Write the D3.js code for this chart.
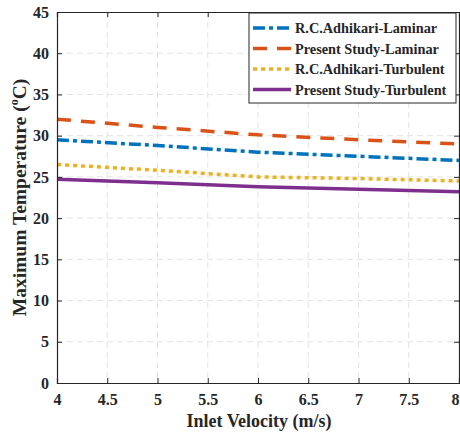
<!DOCTYPE html>
<html lang="en">
<head>
<meta charset="UTF-8">
<script src="https://cdn.jsdelivr.net/npm/d3@7"></script>
<style>
  body { margin: 0; background: #fff; }
  text { font-family: "Liberation Serif", "Times New Roman", serif; font-weight: bold; fill: #262626; }
</style>
</head>
<body>
<script>
// data
var velocity = [4, 5, 6, 7, 8];
var adhikariLaminar = [29.5, 28.8, 28.0, 27.5, 27.0];
var presentLaminar = [32.0, 31.0, 30.1, 29.5, 29.0];
var adhikariTurbulent = [26.5, 25.8, 25.0, 24.8, 24.5];
var presentTurbulent = [24.7, 24.3, 23.8, 23.5, 23.2];
var xTicks = [4, 4.5, 5, 5.5, 6, 6.5, 7, 7.5, 8];
var yTicks = [0, 5, 10, 15, 20, 25, 30, 35, 40, 45];

var series = [
  { name: "R.C.Adhikari-Laminar", values: adhikariLaminar, color: "#0072BD", dash: "12,4,4,4" },
  { name: "Present Study-Laminar", values: presentLaminar, color: "#D95319", dash: "14,10" },
  { name: "R.C.Adhikari-Turbulent", values: adhikariTurbulent, color: "#EDB120", dash: "4,4" },
  { name: "Present Study-Turbulent", values: presentTurbulent, color: "#7E2F8E", dash: null }
];

var width = 460, height = 432;
var m = { left: 57, right: 1, top: 12, bottom: 49 };
var pw = width - m.left - m.right, ph = height - m.top - m.bottom;

var svg = d3.select("body").append("svg")
  .attr("width", width).attr("height", height);
var g = svg.append("g").attr("transform", "translate(" + m.left + "," + m.top + ")");

var x = d3.scaleLinear().domain([4, 8]).range([0, pw]);
var y = d3.scaleLinear().domain([0, 45]).range([ph, 0]);

// grid
g.append("g").selectAll("line").data(xTicks.slice(1, -1)).enter().append("line")
  .attr("x1", function (d) { return x(d); }).attr("x2", function (d) { return x(d); })
  .attr("y1", 0).attr("y2", ph)
  .attr("stroke", "#e3e3e3").attr("stroke-dasharray", "6,4");
g.append("g").selectAll("line").data(yTicks.slice(1, -1)).enter().append("line")
  .attr("y1", function (d) { return y(d); }).attr("y2", function (d) { return y(d); })
  .attr("x1", 0).attr("x2", pw)
  .attr("stroke", "#e3e3e3").attr("stroke-dasharray", "6,4");

// lines
var line = d3.line()
  .x(function (d, i) { return x(velocity[i]); })
  .y(function (d) { return y(d); });
series.forEach(function (s) {
  g.append("path").datum(s.values)
    .attr("d", line)
    .attr("fill", "none")
    .attr("stroke", s.color)
    .attr("stroke-width", 3.5)
    .attr("stroke-dasharray", s.dash);
});

// axes
var xAxis = g.append("g").attr("transform", "translate(0," + ph + ")")
  .call(d3.axisBottom(x).tickValues(xTicks).tickSize(-5).tickPadding(11).tickFormat(d3.format("")));
var yAxis = g.append("g")
  .call(d3.axisLeft(y).tickValues(yTicks).tickSize(-5).tickPadding(8));
var xTop = g.append("g")
  .call(d3.axisTop(x).tickValues(xTicks).tickSize(-5).tickFormat(""));
var yRight = g.append("g").attr("transform", "translate(" + pw + ",0)")
  .call(d3.axisRight(y).tickValues(yTicks).tickSize(-5).tickFormat(""));
[xAxis, yAxis, xTop, yRight].forEach(function (a) {
  a.select(".domain").attr("stroke", "#262626").attr("stroke-width", 1.2);
  a.selectAll(".tick line").attr("stroke", "#262626");
  a.selectAll("text").attr("font-size", 16).attr("fill", "#262626")
    .style("font-family", "'Liberation Serif', serif").style("font-weight", "bold");
});
// last x label sits on the right edge
xAxis.selectAll(".tick text").filter(function (d) { return d === 8; })
  .attr("text-anchor", "end").attr("dx", 0);

// axis titles
svg.append("text")
  .attr("x", m.left + pw / 2 + 1).attr("y", 427)
  .attr("text-anchor", "middle").attr("font-size", 18)
  .text("Inlet Velocity (m/s)");
var yl = svg.append("text")
  .attr("transform", "translate(26," + (m.top + ph / 2) + ") rotate(-90)")
  .attr("text-anchor", "middle").attr("font-size", 19.5);
yl.append("tspan").text("Maximum Temperature (");
yl.append("tspan").attr("font-size", 12).attr("dy", -8).text("o");
yl.append("tspan").attr("dy", 8).text("C)");

// legend
var lg = svg.append("g").attr("transform", "translate(249,13)");
lg.append("rect").attr("width", 207).attr("height", 90)
  .attr("fill", "#fff").attr("stroke", "#262626").attr("stroke-width", 1);
series.forEach(function (s, i) {
  var yy = 15 + i * 20.5;
  lg.append("line")
    .attr("x1", 4).attr("x2", 42).attr("y1", yy).attr("y2", yy)
    .attr("stroke", s.color).attr("stroke-width", 3.5)
    .attr("stroke-dasharray", s.dash);
  lg.append("text")
    .attr("x", 46).attr("y", yy + 5)
    .attr("font-size", 14.3).attr("fill", "#000")
    .text(s.name);
});
</script>
</body>
</html>
